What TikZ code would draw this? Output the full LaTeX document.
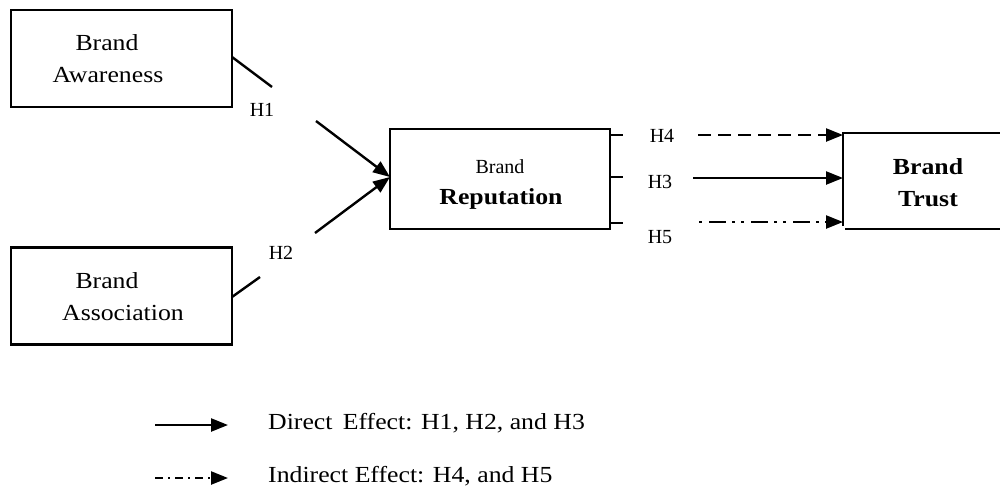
\documentclass[tikz,border=0pt]{standalone}
\usepackage{fontspec}
\setmainfont{Liberation Serif}
\newfontfamily\widefont{Liberation Serif}[FakeStretch=1.12]
\usetikzlibrary{arrows.meta}
\begin{document}
\begin{tikzpicture}[x=1pt,y=-1pt,
  box/.style={draw, line width=2.6pt, inner sep=0pt, minimum width=221pt, minimum height=97pt},
  txt/.style={font=\widefont\fontsize{23}{27}\selectfont, inner sep=0pt},
  btxt/.style={font=\widefont\bfseries\fontsize{23}{27}\selectfont, inner sep=0pt},
  small/.style={font=\fontsize{20}{24}\selectfont, inner sep=0pt},
  hlab/.style={font=\fontsize{20}{24}\selectfont, inner sep=0pt},
  conn/.style={line width=2.4pt},
  arr/.style={line width=2.4pt, -{Triangle[length=17pt,width=13pt]}},
  frame/.style={line width=2.6pt}
]
\useasboundingbox (0,0) rectangle (1000,490);

% boxes
\node[box] (aw) at (121.5,58.5) {};
\node[txt] (aw1) at (107,43) {Brand};
\node[txt] (aw2) at (108,75) {Awareness};

\node[box] (as) at (121.5,296) {};
\node[txt] (as1) at (107,281) {Brand};
\node[txt] (as2) at (123,313) {Association};

\node[box, minimum width=220pt, minimum height=100pt] (rep) at (500,179) {};
\node[small] (rep1) at (500,167) {Brand};
\node[btxt] (rep2) at (501,199) {Reputation};

% trust (open box)
\node[inner sep=0pt, minimum width=157pt, minimum height=96pt] (tr) at (921.5,181) {};
\draw[frame] (1000,133) -- (843,133) -- (843,226);
\draw[frame] (845,229) -- (1000,229);
\node[btxt] (tr1) at (928,167) {Brand};
\node[btxt] (tr2) at (928,199) {Trust};

% ticks on reputation
\coordinate (k4) at (623,135);
\coordinate (k3) at (623,177);
\coordinate (k5) at (623,223);
\draw[frame] (610,135) -- (k4);
\draw[frame] (610,177) -- (k3);
\draw[frame] (610,223) -- (k5);

% H1
\coordinate (h1a) at (272,87);
\coordinate (h1b) at (316,121);
\coordinate (rin) at (390,177);
\draw[conn] (232,57) -- (h1a);
\node[hlab] (h1) at (262,110) {H1};
\draw[arr] (h1b) -- (rin);

% H2
\coordinate (h2a) at (260,277);
\coordinate (h2b) at (315,233);
\draw[conn] (232,297) -- (h2a);
\node[hlab] (h2) at (281,253) {H2};
\draw[arr] (h2b) -- (rin);

% H4, H3, H5
\node[hlab] (h4) at (662,136) {H4};
\node[hlab] (h3) at (660,182) {H3};
\node[hlab] (h5) at (660,237) {H5};
\coordinate (s4) at (698,135);
\coordinate (s3) at (693,178);
\coordinate (s5) at (699,222);
\coordinate (t4) at (843,135);
\coordinate (t3) at (843,178);
\coordinate (t5) at (843,222);
\draw[arr, dash pattern=on 13pt off 7pt] (s4) -- (t4);
\draw[arr] (s3) -- (t3);
\draw[arr, dash pattern=on 3pt off 7pt on 17pt off 6pt on 3pt off 6pt] (s5) -- (t5);

% legend
\coordinate (l1a) at (155,425);
\coordinate (l1b) at (228,425);
\draw[arr] (l1a) -- (l1b);
\node[txt, anchor=west] (l1) at (268,423) {Direct\, Effect: H1, H2, and H3};
\coordinate (l2a) at (155,478);
\coordinate (l2b) at (228,478);
\draw[arr, dash pattern=on 8pt off 5pt on 2pt off 5pt] (l2a) -- (l2b);
\node[txt, anchor=west] (l2) at (268,476) {Indirect Effect: H4, and H5};
\end{tikzpicture}
\end{document}
